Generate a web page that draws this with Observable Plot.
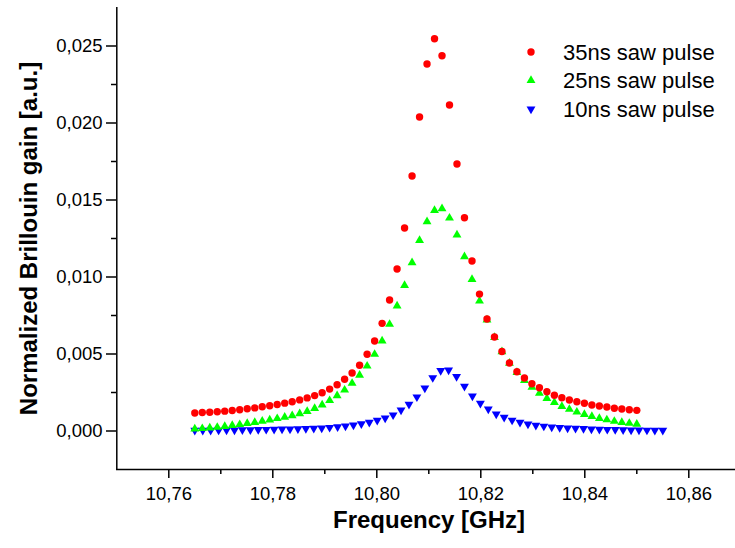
<!DOCTYPE html>
<html>
<head>
<meta charset="utf-8">
<script src="https://cdn.jsdelivr.net/npm/d3@7"></script>
<script src="https://cdn.jsdelivr.net/npm/@observablehq/plot@0.6"></script>
<style>
  html, body { margin: 0; padding: 0; background: #fff; }
  #chart svg { display: block; }
</style>
</head>
<body>
<div id="chart"></div>
<script>
// Frequencies (GHz) for the 35 ns and 25 ns series
const freqRG = [
  10.76500, 10.76644, 10.76788, 10.76932, 10.77076, 10.77220, 10.77364, 10.77508, 10.77653, 10.77797,
  10.77941, 10.78085, 10.78229, 10.78373, 10.78517, 10.78661, 10.78805, 10.78949, 10.79093, 10.79237,
  10.79381, 10.79525, 10.79669, 10.79814, 10.79958, 10.80102, 10.80246, 10.80390, 10.80534, 10.80678,
  10.80822, 10.80966, 10.81110, 10.81254, 10.81398, 10.81542, 10.81686, 10.81831, 10.81975, 10.82119,
  10.82263, 10.82407, 10.82551, 10.82695, 10.82839, 10.82983, 10.83127, 10.83271, 10.83415, 10.83559,
  10.83703, 10.83847, 10.83992, 10.84136, 10.84280, 10.84424, 10.84568, 10.84712, 10.84856, 10.85000
];
// Frequencies (GHz) for the 10 ns series
const freqB = [
  10.76500, 10.76653, 10.76805, 10.76958, 10.77110, 10.77263, 10.77415, 10.77568, 10.77720, 10.77873,
  10.78025, 10.78178, 10.78331, 10.78483, 10.78636, 10.78788, 10.78941, 10.79093, 10.79246, 10.79398,
  10.79551, 10.79703, 10.79856, 10.80008, 10.80161, 10.80314, 10.80466, 10.80619, 10.80771, 10.80924,
  10.81076, 10.81229, 10.81381, 10.81534, 10.81686, 10.81839, 10.81992, 10.82144, 10.82297, 10.82449,
  10.82602, 10.82754, 10.82907, 10.83059, 10.83212, 10.83364, 10.83517, 10.83669, 10.83822, 10.83975,
  10.84127, 10.84280, 10.84432, 10.84585, 10.84737, 10.84890, 10.85042, 10.85195, 10.85347, 10.85500
];
const gain35 = [
  0.00117, 0.00120, 0.00122, 0.00125, 0.00129, 0.00133, 0.00138, 0.00144, 0.00150, 0.00157,
  0.00164, 0.00172, 0.00181, 0.00190, 0.00202, 0.00215, 0.00230, 0.00248, 0.00272, 0.00300,
  0.00336, 0.00377, 0.00427, 0.00498, 0.00584, 0.00699, 0.00851, 0.01052, 0.01318, 0.01656,
  0.02039, 0.02383, 0.02547, 0.02437, 0.02117, 0.01734, 0.01385, 0.01104, 0.00889, 0.00727,
  0.00610, 0.00516, 0.00442, 0.00385, 0.00344, 0.00307, 0.00281, 0.00255, 0.00232, 0.00216,
  0.00201, 0.00190, 0.00180, 0.00169, 0.00162, 0.00156, 0.00148, 0.00143, 0.00138, 0.00134
];
const gain25 = [
  0.00013, 0.00016, 0.00020, 0.00024, 0.00030, 0.00036, 0.00042, 0.00049, 0.00056, 0.00064,
  0.00072, 0.00081, 0.00090, 0.00099, 0.00112, 0.00127, 0.00147, 0.00170, 0.00198, 0.00230,
  0.00266, 0.00310, 0.00362, 0.00422, 0.00498, 0.00585, 0.00693, 0.00812, 0.00946, 0.01093,
  0.01238, 0.01359, 0.01433, 0.01444, 0.01383, 0.01273, 0.01132, 0.00985, 0.00844, 0.00721,
  0.00608, 0.00515, 0.00440, 0.00381, 0.00329, 0.00284, 0.00245, 0.00212, 0.00186, 0.00160,
  0.00141, 0.00123, 0.00108, 0.00095, 0.00082, 0.00073, 0.00063, 0.00056, 0.00050, 0.00045
];
const gain10 = [
  0.00004, 0.00004, 0.00004, 0.00005, 0.00006, 0.00006, 0.00007, 0.00008, 0.00009, 0.00010,
  0.00011, 0.00012, 0.00013, 0.00014, 0.00015, 0.00017, 0.00019, 0.00023, 0.00027, 0.00032,
  0.00039, 0.00047, 0.00056, 0.00069, 0.00084, 0.00104, 0.00136, 0.00173, 0.00221, 0.00279,
  0.00346, 0.00392, 0.00396, 0.00353, 0.00290, 0.00227, 0.00180, 0.00142, 0.00110, 0.00089,
  0.00070, 0.00056, 0.00045, 0.00037, 0.00031, 0.00026, 0.00022, 0.00019, 0.00017, 0.00015,
  0.00013, 0.00011, 0.00010, 0.00009, 0.00007, 0.00006, 0.00006, 0.00005, 0.00004, 0.00004
];
const seriesNames = ["35ns saw pulse", "25ns saw pulse", "10ns saw pulse"];
const seriesColors = ["#ff0000", "#00ff00", "#0000ff"];
const xTicksMajor = [10.76, 10.78, 10.80, 10.82, 10.84, 10.86];
const xTicksMinor = [10.77, 10.79, 10.81, 10.83, 10.85];
const yTicksMajor = [0, 0.005, 0.010, 0.015, 0.020, 0.025];
const yTicksMinor = [0.0025, 0.0075, 0.0125, 0.0175, 0.0225];
const xTitle = "Frequency [GHz]";
const yTitle = "Normalized Brillouin gain [a.u.]";

const d35 = gain35.map((g, i) => ({f: freqRG[i], g}));
const d25 = gain25.map((g, i) => ({f: freqRG[i], g}));
const d10 = gain10.map((g, i) => ({f: freqB[i], g}));

const comma = (k) => (d) => d.toFixed(k).replace(".", ",");
const FONT = "'Liberation Sans', Arial, Helvetica, sans-serif";

const chart = Plot.plot({
  width: 735,
  height: 548,
  marginLeft: 116,
  marginRight: 0,
  marginTop: 7,
  marginBottom: 79,
  x: {domain: [10.75, 10.87], range: [116.3, 740.3]},
  y: {domain: [-0.0025, 0.0275]},
  style: {fontFamily: FONT, background: "#fff", color: "#000"},
  marks: [
    Plot.axisX(xTicksMajor, {tickSize: 9, tickPadding: 8, fontSize: 18.5, tickFormat: comma(2), label: null, strokeWidth: 1.5}),
    Plot.axisX(xTicksMinor, {tickSize: 5, tickFormat: () => "", label: null, strokeWidth: 1.5}),
    Plot.axisY(yTicksMajor, {tickSize: 10, tickPadding: 4, fontSize: 18.5, tickFormat: comma(3), label: null, strokeWidth: 1.5}),
    Plot.axisY(yTicksMinor, {tickSize: 5, tickFormat: () => "", label: null, strokeWidth: 1.5}),
    Plot.ruleY([-0.0025], {stroke: "#000", strokeWidth: 1.5}),
    Plot.ruleX([10.75], {stroke: "#000", strokeWidth: 1.5}),
    Plot.dot(d10, {x: "f", y: "g", symbol: "triangle", rotate: 180, r: 3.3, fill: seriesColors[2], stroke: "none"}),
    Plot.dot(d25, {x: "f", y: "g", symbol: "triangle", r: 3.3, fill: seriesColors[1], stroke: "none"}),
    Plot.dot(d35, {x: "f", y: "g", symbol: "circle", r: 3.7, fill: seriesColors[0], stroke: "none"}),
    Plot.text([xTitle], {frameAnchor: "bottom", dx: 3, dy: 58, fontSize: 24, fontWeight: "bold", fill: "#000", textAnchor: "middle"}),
    Plot.text([yTitle], {frameAnchor: "left", dx: -87, rotate: -90, fontSize: 24, fontWeight: "bold", fill: "#000", textAnchor: "middle"})
  ]
});

// Legend inside the plot, top right
const svg = d3.select(chart);
const leg = svg.append("g").attr("font-family", FONT).attr("font-size", 22).attr("text-anchor", "start");
const legY = [52, 80.5, 109];
const legSymbols = [d3.symbolCircle, d3.symbolTriangle, d3.symbolTriangle];
const legRot = [0, 0, 180];
const legSize = [Math.PI * 3.7 * 3.7, Math.PI * 3.3 * 3.3, Math.PI * 3.3 * 3.3];
seriesNames.forEach((name, i) => {
  leg.append("path")
    .attr("d", d3.symbol(legSymbols[i], legSize[i])())
    .attr("transform", `translate(531,${legY[i]}) rotate(${legRot[i]})`)
    .attr("fill", seriesColors[i]);
  leg.append("text")
    .attr("x", 563)
    .attr("y", legY[i])
    .attr("dy", "0.35em")
    .attr("text-anchor", "start")
    .attr("fill", "#000")
    .text(name);
});

document.getElementById("chart").appendChild(chart);
</script>
</body>
</html>
